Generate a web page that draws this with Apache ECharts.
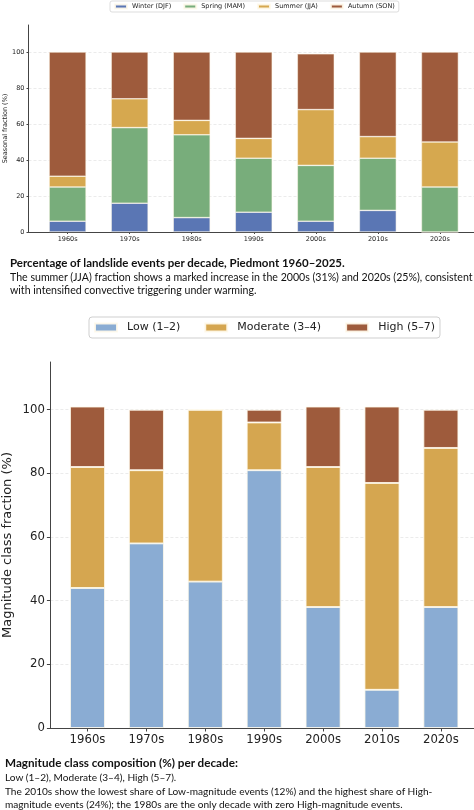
<!DOCTYPE html>
<html>
<head>
<meta charset="utf-8">
<script src="https://cdn.jsdelivr.net/npm/echarts@6.0.0/dist/echarts.min.js"></script>
<style>
  html, body { margin: 0; padding: 0; background: #fff; }
  #chart { position: absolute; left: 0; top: 0; width: 474px; height: 810px; }
  .caption {
    position: absolute;
    font-family: Lato, "Open Sans", sans-serif;
    color: #111;
    white-space: nowrap;
  }
  .caption b { font-weight: 700; }
  #cap1 { left: 10px; top: 256px; font-size: 10.6px; line-height: 13.5px; }
  #cap1 b { font-size: 11.5px; }
  #cap2 { left: 5px; top: 756px; font-size: 10.1px; line-height: 13.8px; }
  #cap2 b { font-size: 11.7px; }
</style>
</head>
<body>
<div id="chart"></div>
<div class="caption" id="cap1">
  <b>Percentage of landslide events per decade, Piedmont 1960–2025.</b><br>
  The summer (JJA) fraction shows a marked increase in the 2000s (31%) and 2020s (25%), consistent<br>
  with intensified convective triggering under warming.
</div>
<div class="caption" id="cap2">
  <b>Magnitude class composition (%) per decade:</b><br>
  Low (1–2), Moderate (3–4), High (5–7).<br>
  The 2010s show the lowest share of Low-magnitude events (12%) and the highest share of High-<br>
  magnitude events (24%); the 1980s are the only decade with zero High-magnitude events.
</div>
<script>
const decades = ['1960s', '1970s', '1980s', '1990s', '2000s', '2010s', '2020s'];

// seasonal fractions (%)
const winter = [6, 16, 8, 11, 6, 12, 0];
const spring = [19, 42, 46, 30, 31, 29, 25];
const summer = [6, 16, 8, 11, 31, 12, 25];
const autumn = [69, 26, 38, 48, 31, 47, 50];

// magnitude class fractions (%)
const low = [44, 58, 46, 81, 38, 12, 38];
const moderate = [38, 23, 54, 15, 44, 65, 50];
const high = [19, 19, 0, 4, 19, 24, 12];

const yTicks = [0, 20, 40, 60, 80, 100];

const seasonNames = ['Winter (DJF)', 'Spring (MAM)', 'Summer (JJA)', 'Autumn (SON)'];
const seasonColors = ['#5a76b4', '#78ad7b', '#d6a84f', '#9e5b3c'];
const magNames = ['Low (1–2)', 'Moderate (3–4)', 'High (5–7)'];
const magColors = ['#8aacd3', '#d5a650', '#9e5b3c'];

const font = 'DejaVu Sans';
const positions = decades.map((d, i) => i);

function xAxis(gridIndex, fontSize, margin, tickLen) {
  return {
    type: 'value',
    gridIndex,
    min: -0.63,
    max: 6.63,
    axisLine: { onZero: false, lineStyle: { color: '#444', width: 1 } },
    axisTick: { show: true, customValues: positions, length: tickLen, lineStyle: { color: '#444' } },
    axisLabel: {
      customValues: positions,
      formatter: (v) => decades[Math.round(v)],
      fontFamily: font,
      fontSize,
      color: '#222',
      margin,
    },
    splitLine: { show: false },
  };
}

function yAxis(gridIndex, name, fontSize, nameSize, nameGap, tickLen) {
  return {
    type: 'value',
    gridIndex,
    min: 0,
    max: 115,
    name,
    nameLocation: 'middle',
    nameGap,
    nameMoveOverlap: false,
    nameTextStyle: { fontFamily: font, fontSize: nameSize, color: '#222' },
    axisLine: { show: true, onZero: false, lineStyle: { color: '#444', width: 1 } },
    axisTick: { show: true, customValues: yTicks, length: tickLen, lineStyle: { color: '#444' } },
    axisLabel: { customValues: yTicks, fontFamily: font, fontSize, color: '#222', margin: tickLen + 2 },
    splitLine: { show: true, lineStyle: { color: '#e6e6e6', width: 0.8, type: [3, 2] } },
  };
}

// value first, decade index second, so the stack runs along y
function barSeries(names, colors, values, axisIndex, stack, barWidth, border) {
  return values.map((vals, k) => ({
    name: names[k],
    type: 'bar',
    stack,
    xAxisIndex: axisIndex,
    yAxisIndex: axisIndex,
    barWidth,
    encode: { x: 1, y: 0 },
    data: vals.map((v, i) => [v, i]),
    itemStyle: { color: colors[k], borderColor: 'rgba(255,250,235,0.9)', borderWidth: border },
    emphasis: { disabled: true },
  }));
}

const chart = echarts.init(document.getElementById('chart'));
chart.setOption({
  animation: false,
  backgroundColor: '#fff',
  legend: [
    {
      data: seasonNames,
      left: 110,
      top: 1,
      icon: 'rect',
      itemWidth: 12,
      itemHeight: 4,
      itemGap: 12,
      padding: [2, 4],
      borderColor: '#cfcfcf',
      borderWidth: 0.7,
      borderRadius: 2,
      textStyle: { fontFamily: font, fontSize: 6.5, color: '#222' },
    },
    {
      data: magNames,
      left: 89,
      top: 317,
      icon: 'rect',
      itemWidth: 22,
      itemHeight: 8,
      itemGap: 24,
      padding: [5, 5],
      borderColor: '#cfcfcf',
      borderWidth: 1,
      borderRadius: 3,
      textStyle: { fontFamily: font, fontSize: 11, color: '#222', padding: [0, 0, 0, 5] },
    },
  ],
  grid: [
    { left: 28.5, top: 25, width: 450.5, height: 207, outerBoundsMode: 'none' },
    { left: 50.4, top: 362, width: 427.6, height: 366, outerBoundsMode: 'none' },
  ],
  xAxis: [xAxis(0, 6.5, 4, 2), xAxis(1, 11.7, 6, 3.5)],
  yAxis: [
    yAxis(0, 'Seasonal fraction (%)', 6.5, 6.5, 20, 2),
    yAxis(1, 'Magnitude class fraction (%)', 11.7, 13, 36, 3.5),
  ],
  series: [
    ...barSeries(seasonNames, seasonColors, [winter, spring, summer, autumn], 0, 'season', 37, 0.6),
    ...barSeries(magNames, magColors, [low, moderate, high], 1, 'mag', 35, 0.9),
  ],
});
</script>
</body>
</html>
